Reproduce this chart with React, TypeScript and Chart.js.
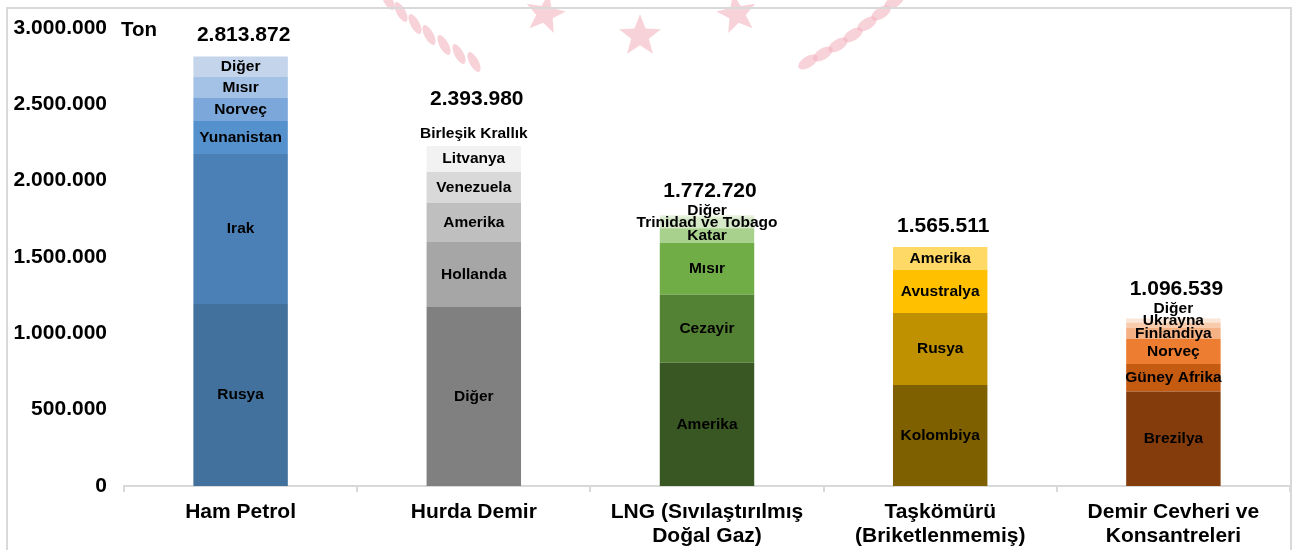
import React, { useEffect, useRef } from 'react';
import { Chart, registerables } from 'chart.js';

Chart.register(...registerables);

// ---------- data ----------
const categories: string[][] = [
  ['Ham Petrol'],
  ['Hurda Demir'],
  ['LNG (Sıvılaştırılmış', 'Doğal Gaz)'],
  ['Taşkömürü', '(Briketlenmemiş)'],
  ['Demir Cevheri ve', 'Konsantreleri'],
];

const hamPetrolCountries = ['Rusya', 'Irak', 'Yunanistan', 'Norveç', 'Mısır', 'Diğer'];
const hamPetrolValues = [1192000, 983000, 216000, 150000, 138000, 134872];

const hurdaDemirCountries = ['Diğer', 'Hollanda', 'Amerika', 'Venezuela', 'Litvanya', 'Birleşik Krallık'];
const hurdaDemirValues = [1172000, 426000, 256000, 203000, 170000, 166980];

const lngCountries = ['Amerika', 'Cezayir', 'Mısır', 'Katar', 'Trinidad ve Tobago', 'Diğer'];
const lngValues = [808000, 445000, 341000, 94000, 72000, 12720];

const taskomuruCountries = ['Kolombiya', 'Rusya', 'Avustralya', 'Amerika'];
const taskomuruValues = [662000, 471000, 282000, 150511];

const demirCevheriCountries = ['Brezilya', 'Güney Afrika', 'Norveç', 'Finlandiya', 'Ukrayna', 'Diğer'];
const demirCevheriValues = [619000, 180000, 164000, 72000, 36000, 25539];

const yTickValues = [0, 500000, 1000000, 1500000, 2000000, 2500000, 3000000];
const unitLabel = 'Ton';

// ---------- styles ----------
const hamPetrolColors = ['#41719c', '#4a80b6', '#5592cd', '#7ba7da', '#a4c2e6', '#c4d4eb'];
const hurdaDemirColors = ['#808080', '#a6a6a6', '#bfbfbf', '#d9d9d9', '#f2f2f2', '#ffffff'];
const lngColors = ['#385723', '#548235', '#70ad47', '#a9d18e', '#d5e8c8', '#e6f2de'];
const taskomuruColors = ['#7f6000', '#bf9000', '#ffc000', '#ffd966'];
const demirCevheriColors = ['#843c0c', '#c55a11', '#ed7d31', '#f4b183', '#f8cbad', '#fbe5d6'];

const FONT = "'Liberation Sans', Arial, Helvetica, sans-serif";

const groups = [
  { names: hamPetrolCountries, values: hamPetrolValues, colors: hamPetrolColors },
  { names: hurdaDemirCountries, values: hurdaDemirValues, colors: hurdaDemirColors },
  { names: lngCountries, values: lngValues, colors: lngColors },
  { names: taskomuruCountries, values: taskomuruValues, colors: taskomuruColors },
  { names: demirCevheriCountries, values: demirCevheriValues, colors: demirCevheriColors },
];

const fmt = (n: number) => String(Math.round(n)).replace(/\B(?=(\d{3})+(?!\d))/g, '.');

function drawStar(ctx: CanvasRenderingContext2D, cx: number, cy: number, r: number, rot: number) {
  ctx.beginPath();
  for (let i = 0; i < 10; i++) {
    const rr = i % 2 === 0 ? r : r * 0.42;
    const a = rot - Math.PI / 2 + (i * Math.PI) / 5;
    const x = cx + rr * Math.cos(a);
    const y = cy + rr * Math.sin(a);
    if (i === 0) ctx.moveTo(x, y);
    else ctx.lineTo(x, y);
  }
  ctx.closePath();
  ctx.fill();
}

const backgroundPlugin = {
  id: 'bgFrame',
  beforeDraw(chart: any) {
    const ctx = chart.ctx as CanvasRenderingContext2D;
    ctx.save();
    ctx.fillStyle = '#ffffff';
    ctx.fillRect(0, 0, chart.width, chart.height);
    // faint watermark (emblem fragment)
    ctx.fillStyle = 'rgba(244,180,192,0.6)';
    drawStar(ctx, 545, 14, 21, 0.2);
    drawStar(ctx, 640, 36, 22, 0);
    drawStar(ctx, 737, 14, 21, -0.2);
    const leftDashes = [[388, 0], [401, 12], [415, 24], [429, 35], [444, 45], [459, 54], [474, 62]];
    const rightDashes = [[894, 2], [881, 13], [867, 24], [853, 35], [838, 45], [823, 54], [808, 62]];
    leftDashes.forEach(([x, y]) => {
      ctx.beginPath();
      ctx.ellipse(x, y, 4.5, 11, -0.5, 0, Math.PI * 2);
      ctx.fill();
    });
    rightDashes.forEach(([x, y]) => {
      ctx.beginPath();
      ctx.ellipse(x, y, 11, 5.5, -0.55, 0, Math.PI * 2);
      ctx.fill();
    });
    // frame
    ctx.strokeStyle = '#d9d9d9';
    ctx.lineWidth = 2;
    ctx.strokeRect(7, 8, 1284, 600);
    ctx.restore();
  },
};

const labelPlugin = {
  id: 'segLabels',
  afterDatasetsDraw(chart: any) {
    const ctx = chart.ctx as CanvasRenderingContext2D;
    ctx.save();
    ctx.fillStyle = '#000';
    ctx.textAlign = 'center';
    ctx.textBaseline = 'middle';
    const gap = 12.5;
    categories.forEach((_, ci) => {
      const items: { label: string; y: number; x: number; top: number }[] = [];
      chart.data.datasets.forEach((ds: any, di: number) => {
        if (ds.catIndex !== ci) return;
        const el = chart.getDatasetMeta(di).data[ci];
        if (!el) return;
        const top = Math.min(el.y, el.base);
        const bot = Math.max(el.y, el.base);
        items.push({ label: ds.segLabel, y: (top + bot) / 2, x: el.x, top });
      });
      // bottom-up collision avoidance
      let prev = Infinity;
      items.forEach((it) => {
        const y = Math.min(it.y, prev - gap);
        it.y = y;
        prev = y;
      });
      ctx.font = `bold 15.5px ${FONT}`;
      items.forEach((it) => ctx.fillText(it.label, it.x, it.y));
      if (items.length) {
        const barTop = Math.min(...items.map((i) => i.top));
        const topLabel = items[items.length - 1].y;
        const ty = Math.min(barTop - 21, topLabel - 19);
        const total = groups[ci].values.reduce((a, b) => a + b, 0);
        ctx.font = `bold 21px ${FONT}`;
        ctx.fillText(fmt(total), items[0].x + 3, ty);
      }
    });
    // unit label
    ctx.font = `bold 20.5px ${FONT}`;
    ctx.textAlign = 'left';
    ctx.fillText(unitLabel, chart.chartArea.left - 3, 30);
    ctx.restore();
  },
};

export default function App() {
  const ref = useRef<HTMLCanvasElement | null>(null);
  useEffect(() => {
    if (!ref.current) return;
    const datasets: any[] = [];
    groups.forEach((g, ci) => {
      g.values.forEach((v, j) => {
        datasets.push({
          label: `${categories[ci].join(' ')} - ${g.names[j]}`,
          segLabel: g.names[j],
          catIndex: ci,
          data: categories.map((_, i) => (i === ci ? v : null)),
          backgroundColor: g.colors[j],
          borderWidth: 0,
          stack: 'total',
          categoryPercentage: 1,
          barPercentage: 0.405,
        });
      });
    });
    const chart = new Chart(ref.current, {
      type: 'bar',
      data: { labels: categories, datasets },
      options: {
        animation: false,
        responsive: false,
        devicePixelRatio: 1,
        layout: { padding: { top: 28, right: 5, left: 0, bottom: 0 } },
        plugins: { legend: { display: false }, tooltip: { enabled: false }, title: { display: false } },
        scales: {
          x: {
            stacked: true,
            grid: {
              display: true,
              drawOnChartArea: false,
              drawTicks: true,
              tickLength: 6,
              color: '#d9d9d9',
              lineWidth: 2,
              offset: true,
            },
            border: { display: true, color: '#d9d9d9', width: 2 },
            ticks: {
              color: '#000',
              font: { family: FONT, size: 21, weight: 'bold', lineHeight: 1.15 },
              padding: 8,
              maxRotation: 0,
              minRotation: 0,
              autoSkip: false,
            },
            afterFit: (s: any) => {
              s.height = 64;
            },
          },
          y: {
            stacked: true,
            min: 0,
            max: 3000000,
            afterBuildTicks: (s: any) => {
              s.ticks = yTickValues.map((v) => ({ value: v }));
            },
            grid: { display: false },
            border: { display: false },
            ticks: {
              color: '#000',
              font: { family: FONT, size: 21, weight: 'bold' },
              padding: 9,
              callback: (v: any) => fmt(Number(v)),
            },
            afterFit: (s: any) => {
              s.width = 124;
            },
          },
        },
      } as any,
      plugins: [backgroundPlugin, labelPlugin],
    });
    return () => chart.destroy();
  }, []);
  return (
    <div style={{ position: 'absolute', left: 0, top: 0, width: 1295, height: 550, background: '#fff' }}>
      <canvas ref={ref} width={1295} height={550} style={{ display: 'block' }} />
    </div>
  );
}
